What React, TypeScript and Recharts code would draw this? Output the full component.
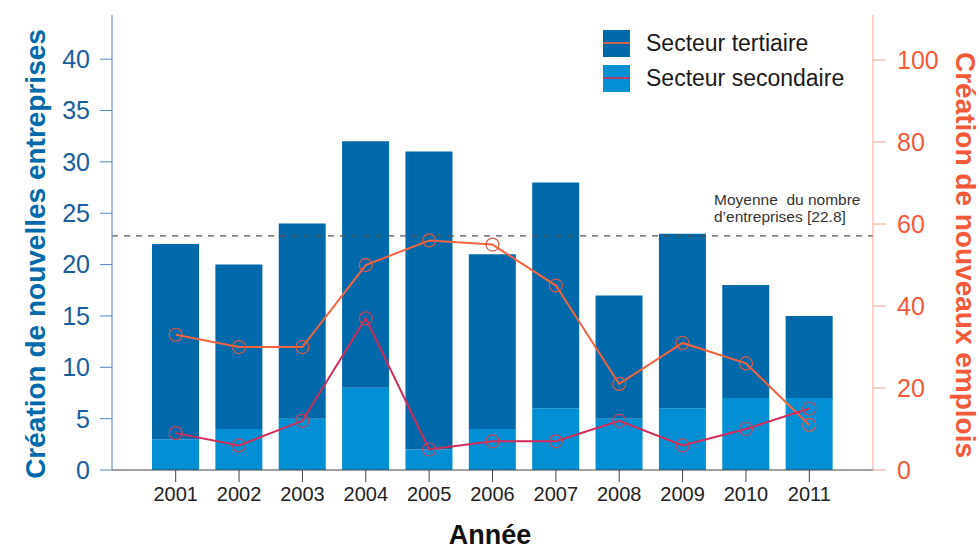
import { Bar, ComposedChart, Line, ReferenceLine, XAxis, YAxis } from "recharts"

const years = ["2001", "2002", "2003", "2004", "2005", "2006", "2007", "2008", "2009", "2010", "2011"]
const entreprisesSecondaire = [3, 4, 5, 8, 2, 4, 6, 5, 6, 7, 7]
const entreprisesTertiaire = [19, 16, 19, 24, 29, 17, 22, 12, 17, 11, 8]
const emploisTertiaire = [33, 30, 30, 50, 56, 55, 45, 21, 31, 26, 11]
const emploisSecondaire = [9, 6, 12, 37, 5, 7, 7, 12, 6, 10, 15]
const leftTicks = [0, 5, 10, 15, 20, 25, 30, 35, 40]
const rightTicks = [0, 20, 40, 60, 80, 100]
const moyenne = 22.8

const data = years.map((year, i) => ({
  year,
  secondaire: entreprisesSecondaire[i],
  tertiaire: entreprisesTertiaire[i],
  emploisTertiaire: emploisTertiaire[i],
  emploisSecondaire: emploisSecondaire[i],
}))

const FONT = "'Liberation Sans', Arial, sans-serif"
const DARK = "#0069aa"
const LIGHT = "#008fd3"
const ORANGE = "#f2633f"
const CRIMSON = "#d42a58"
const LEFT_TEXT = "#1a5d9c"
const RIGHT_TEXT = "#f25a3a"

const legendItems = [
  { label: "Secteur tertiaire", fill: DARK, line: ORANGE },
  { label: "Secteur secondaire", fill: LIGHT, line: CRIMSON },
]

// legend sits over the chart, top right, like the original
function ChartLegend() {
  return (
    <div
      style={{
        position: "absolute",
        left: 603,
        top: 30,
        display: "flex",
        flexDirection: "column",
        gap: 8,
        fontFamily: FONT,
      }}
    >
      {legendItems.map((item) => (
        <div key={item.label} style={{ display: "flex", alignItems: "center", height: 27 }}>
          <div style={{ position: "relative", width: 27, height: 27, background: item.fill }}>
            <div
              style={{
                position: "absolute",
                left: 0,
                right: 0,
                top: 12,
                height: 2,
                background: item.line,
                opacity: 0.85,
              }}
            />
          </div>
          <span style={{ marginLeft: 16, fontSize: 23, color: "#1a1a1a", whiteSpace: "nowrap" }}>
            {item.label}
          </span>
        </div>
      ))}
    </div>
  )
}

export default function App() {
  return (
    <div style={{ position: "absolute", left: 0, top: 0, width: 980, height: 550, background: "#fff" }}>
      <ComposedChart
        width={980}
        height={550}
        data={data}
        margin={{ top: 15, right: 47, left: 52, bottom: 40 }}
        style={{ fontFamily: FONT }}
      >
        <XAxis
          dataKey="year"
          height={40}
          padding={{ left: 32, right: 32 }}
          stroke="#444"
          tickSize={12}
          tickMargin={5}
          tick={{ fontSize: 20, fill: "#222" }}
        />
        <YAxis
          yAxisId="left"
          width={60}
          domain={[0, 44.3]}
          ticks={leftTicks}
          stroke="#4f86c0"
          tickSize={12}
          tickMargin={10}
          tick={{ fontSize: 25, fill: LEFT_TEXT }}
        />
        <YAxis
          yAxisId="right"
          orientation="right"
          width={60}
          domain={[0, 111]}
          ticks={rightTicks}
          stroke="#f7a493"
          tickSize={13}
          tickMargin={11}
          tick={{ fontSize: 25, fill: RIGHT_TEXT }}
        />
        <Bar yAxisId="left" dataKey="secondaire" stackId="e" fill={LIGHT} barSize={47} isAnimationActive={false} />
        <Bar yAxisId="left" dataKey="tertiaire" stackId="e" fill={DARK} barSize={47} isAnimationActive={false} />
        <ReferenceLine yAxisId="left" y={moyenne} stroke="#555" strokeDasharray="6 6" strokeWidth={1.2} />
        <Line
          yAxisId="right"
          dataKey="emploisTertiaire"
          stroke={ORANGE}
          strokeWidth={2}
          dot={{ r: 6.5, fill: "none", stroke: "#d65a48", strokeWidth: 1.2 }}
          isAnimationActive={false}
        />
        <Line
          yAxisId="right"
          dataKey="emploisSecondaire"
          stroke={CRIMSON}
          strokeWidth={2}
          dot={{ r: 6.5, fill: "none", stroke: "#c0455a", strokeWidth: 1.2 }}
          isAnimationActive={false}
        />
        <text
          x={35}
          y={254}
          transform="rotate(-90 35 254)"
          textAnchor="middle"
          dominantBaseline="central"
          fontSize={28}
          fontWeight="bold"
          fill={DARK}
        >
          Création de nouvelles entreprises
        </text>
        <text
          x={965}
          y={255}
          transform="rotate(90 965 255)"
          textAnchor="middle"
          dominantBaseline="central"
          fontSize={28}
          fontWeight="bold"
          fill={RIGHT_TEXT}
        >
          Création de nouveaux emplois
        </text>
        <text x={490} y={535} textAnchor="middle" dominantBaseline="central" fontSize={27} fontWeight="bold" fill="#111">
          Année
        </text>
        <text x={714} y={205} fontSize={15.5} fill="#333">
          {"Moyenne\u00a0 du nombre"}
        </text>
        <text x={714} y={222} fontSize={15.5} fill="#333">
          d’entreprises [22.8]
        </text>
      </ComposedChart>
      <ChartLegend />
    </div>
  )
}
